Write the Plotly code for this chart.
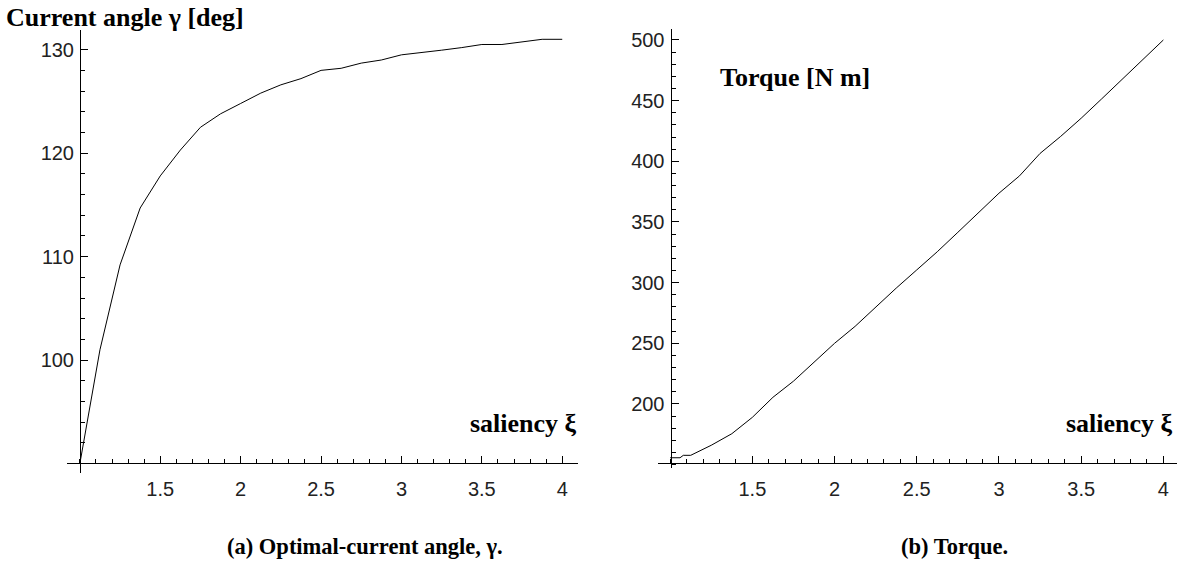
import plotly.graph_objects as go

W, H = 1178, 571

# ---------------- data ----------------
saliency_a = [1.0, 1.125, 1.25, 1.375, 1.5, 1.625, 1.75, 1.875, 2.0, 2.125, 2.25, 2.375,
              2.5, 2.625, 2.75, 2.875, 3.0, 3.125, 3.25, 3.375, 3.5, 3.625, 3.75, 3.875, 4.0]
angle_deg = [90.0, 101.0, 109.2, 114.7, 117.8, 120.3, 122.5, 123.8, 124.8, 125.8, 126.6, 127.2,
             128.0, 128.2, 128.7, 129.0, 129.5, 129.7, 129.95, 130.2, 130.5, 130.5, 130.75, 131.0, 131.0]

saliency_b = [1.0, 1.06, 1.08, 1.125, 1.25, 1.375, 1.5, 1.625, 1.75, 1.875, 2.0, 2.125, 2.25,
              2.375, 2.5, 2.625, 2.75, 2.875, 3.0, 3.125, 3.25, 3.375, 3.5, 3.625, 3.75, 3.875, 4.0]
torque_nm = [155.7, 155.7, 157.7, 157.7, 166.0, 175.5, 189.0, 205.5, 218.8, 234.0, 250.0, 264.0, 280.0,
             295.5, 310.5, 325.5, 341.5, 358.0, 373.7, 388.0, 406.5, 420.5, 435.5, 451.5, 467.5, 484.0, 500.0]

x_tickvals = [1.5, 2, 2.5, 3, 3.5, 4]
x_ticktext = ["1.5", "2", "2.5", "3", "3.5", "4"]
angle_tickvals = [100, 110, 120, 130]
torque_tickvals = [200, 250, 300, 350, 400, 450, 500]


def px(x):
    return x / W


def py(y):
    return 1 - y / H


tickfont = dict(family="Liberation Sans Narrow, Arial Narrow, Liberation Sans, sans-serif",
                size=20, color="#222222")
serif_bold = dict(family="Liberation Serif, Times New Roman, serif", size=21, color="black")

fig = go.Figure()
fig.add_trace(go.Scatter(x=saliency_a, y=angle_deg, mode="lines",
                         line=dict(color="black", width=1), xaxis="x", yaxis="y",
                         showlegend=False, hoverinfo="skip"))
fig.add_trace(go.Scatter(x=saliency_b, y=torque_nm, mode="lines",
                         line=dict(color="black", width=1), xaxis="x2", yaxis="y2",
                         showlegend=False, hoverinfo="skip"))

common = dict(showline=True, linecolor="black", linewidth=1, showgrid=False, zeroline=False,
              ticks="inside", ticklen=7, tickwidth=1, tickcolor="black", tickfont=tickfont,
              tickmode="array", fixedrange=True)

fig.update_layout(
    width=W, height=H,
    margin=dict(l=0, r=0, t=0, b=0),
    paper_bgcolor="white", plot_bgcolor="white",
    xaxis=dict(**common, domain=[px(67), px(578)], range=[0.92, 4.098],
               anchor="free", position=py(463.3),
               tickvals=x_tickvals, ticktext=x_ticktext, ticklabelstandoff=8,
               minor=dict(tickmode="linear", tick0=0, dtick=0.1, ticks="inside",
                          ticklen=4, tickcolor="black", showgrid=False)),
    yaxis=dict(**common, domain=[py(473), py(30)], range=[89.09, 131.9],
               anchor="free", position=px(80),
               tickvals=angle_tickvals, ticklabelstandoff=2,
               minor=dict(tickmode="linear", tick0=0, dtick=2, ticks="inside",
                          ticklen=4, tickcolor="black", showgrid=False)),
    xaxis2=dict(**common, domain=[px(658), px(1177)], range=[0.926, 4.083],
                anchor="free", position=py(462.7),
                tickvals=x_tickvals, ticktext=x_ticktext, ticklabelstandoff=8,
                minor=dict(tickmode="linear", tick0=0, dtick=0.1, ticks="inside",
                           ticklen=4, tickcolor="black", showgrid=False)),
    yaxis2=dict(**common, domain=[py(468), py(29.3)], range=[147.25, 508.8],
                anchor="free", position=px(670.5),
                tickvals=torque_tickvals, ticklabelstandoff=2,
                minor=dict(tickmode="linear", tick0=0, dtick=10, ticks="inside",
                           ticklen=4, tickcolor="black", showgrid=False)),
)

ann = [
    dict(text="<b>Current angle γ [deg]</b>", x=px(4), y=py(18), xanchor="left", yanchor="middle", size=26),
    dict(text="<b>saliency ξ</b>", x=px(579), y=py(423), xanchor="right", yanchor="middle", size=26),
    dict(text="<b>Torque [N m]</b>", x=px(718), y=py(78), xanchor="left", yanchor="middle", size=26),
    dict(text="<b>saliency ξ</b>", x=px(1175), y=py(424), xanchor="right", yanchor="middle", size=26),
    dict(text="<b>(a) Optimal-current angle, γ.</b>", x=px(365), y=py(546), xanchor="center", yanchor="middle", size=22.5),
    dict(text="<b>(b) Torque.</b>", x=px(954), y=py(546), xanchor="center", yanchor="middle", size=22.5),
]
for a in ann:
    f = dict(serif_bold)
    f["size"] = a.pop("size")
    fig.add_annotation(xref="paper", yref="paper", showarrow=False, font=f, **a)

fig.write_html("out.html")
